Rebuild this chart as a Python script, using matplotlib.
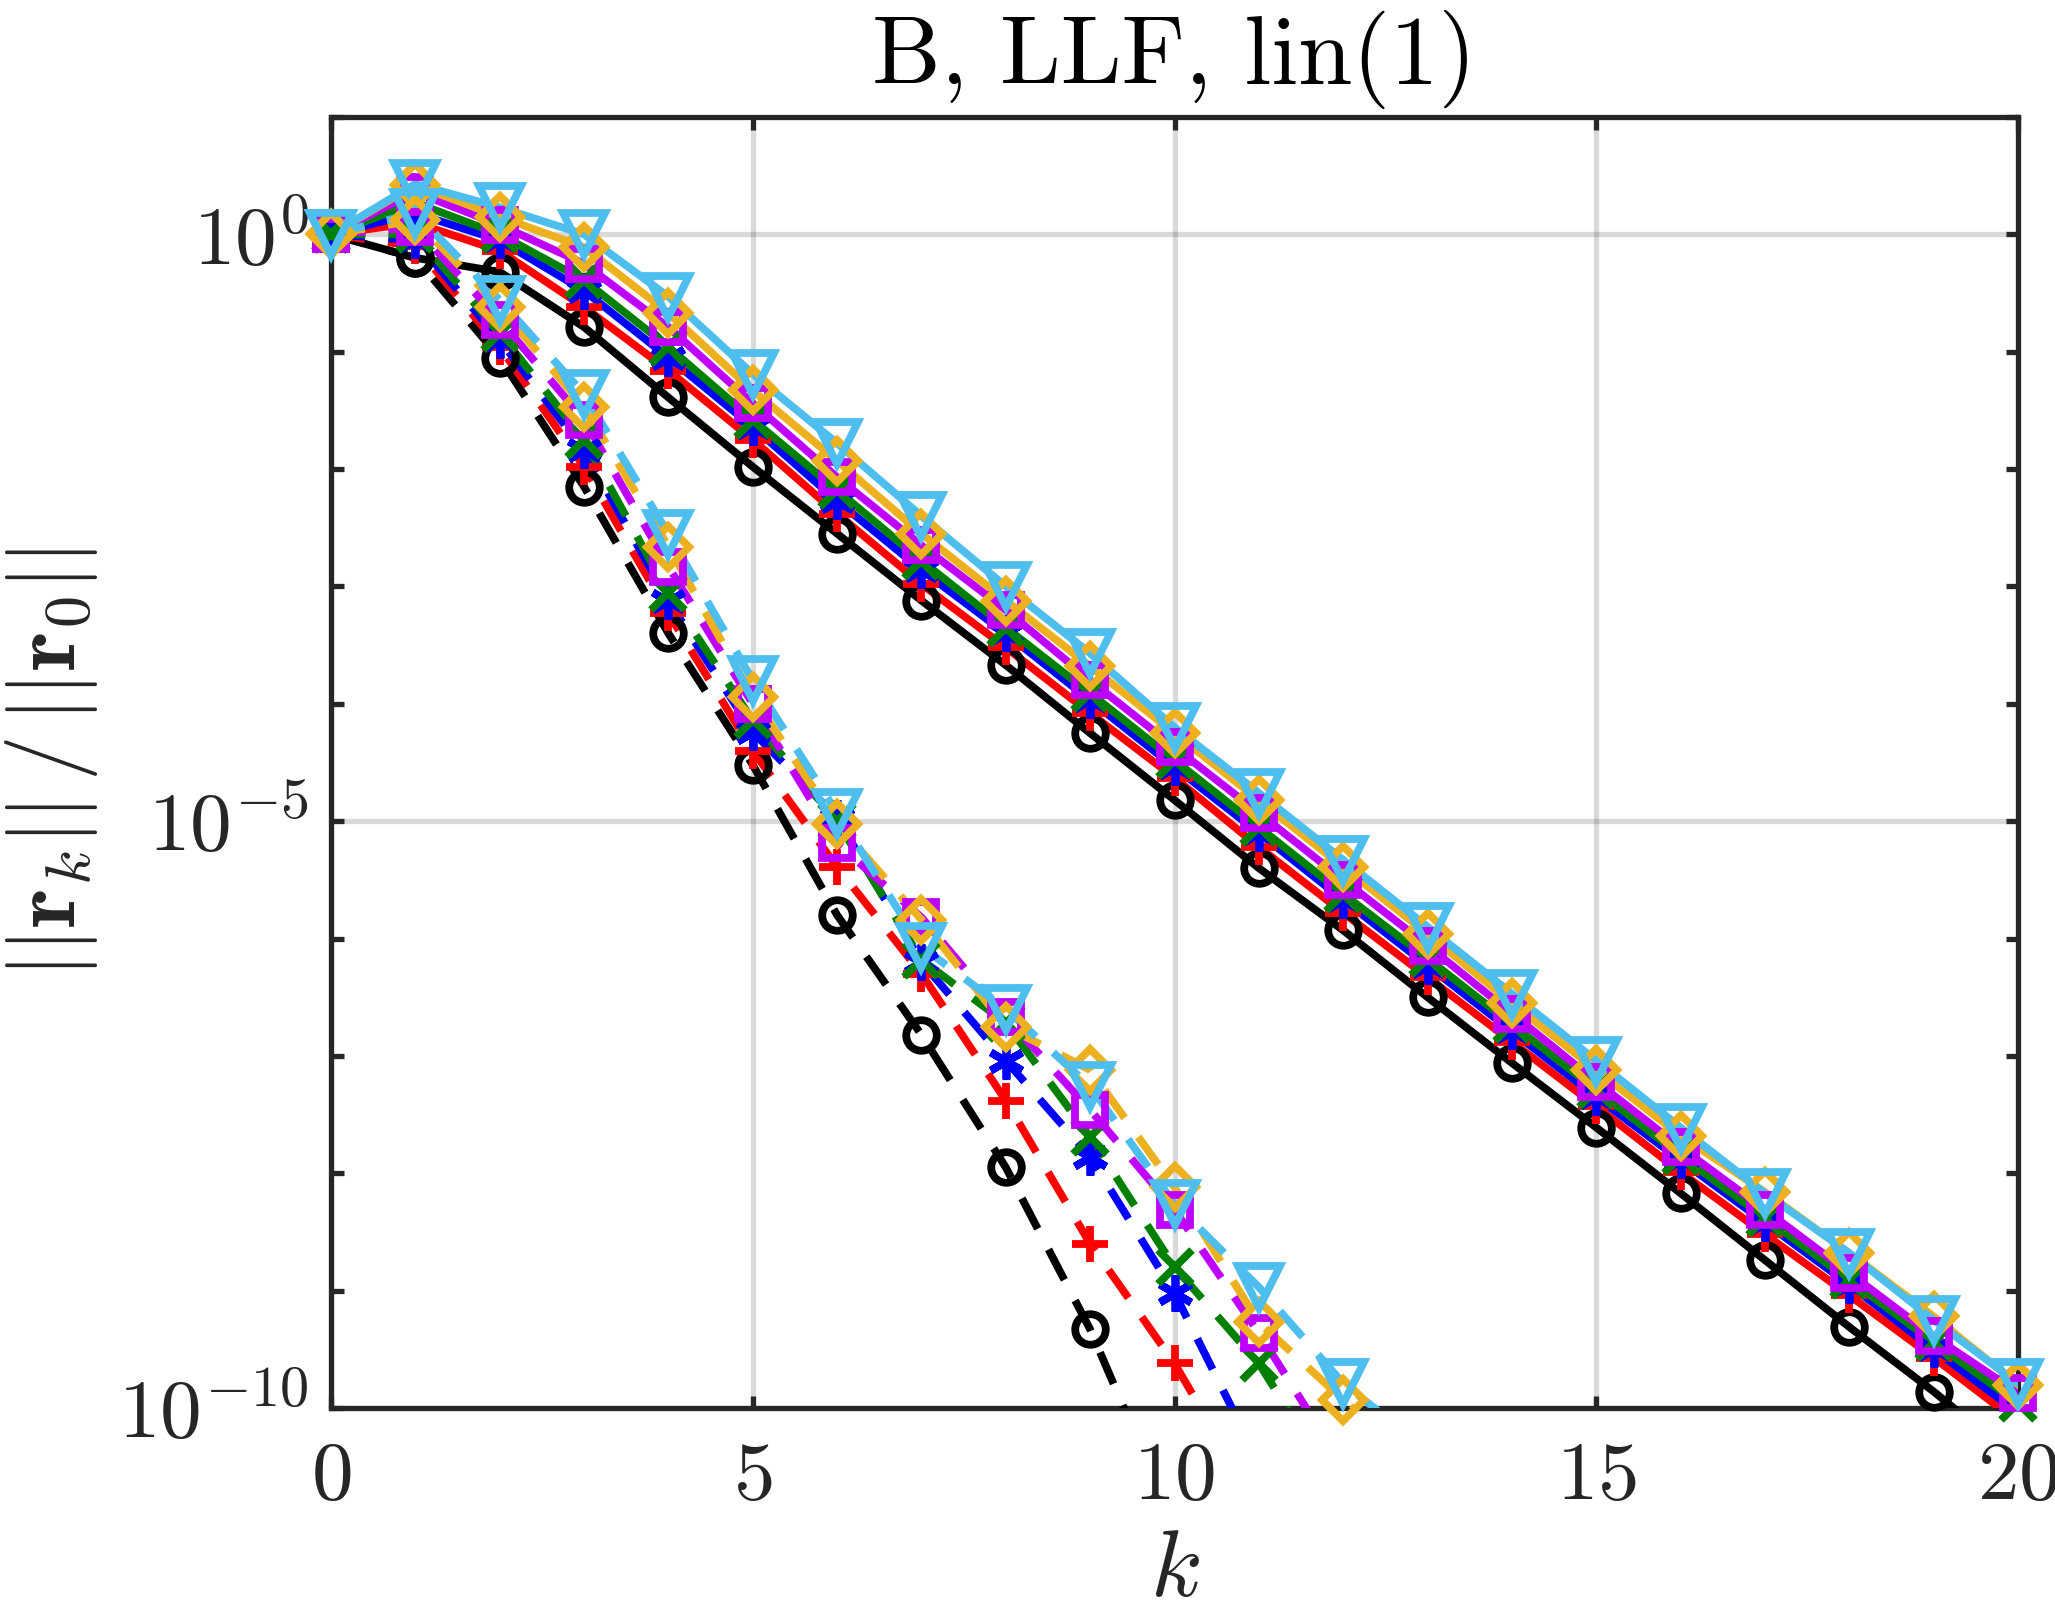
import numpy as np
import matplotlib
matplotlib.use("Agg")
import matplotlib.pyplot as plt
from matplotlib.ticker import FixedLocator, FixedFormatter, NullFormatter

plt.rcParams['mathtext.fontset'] = 'cm'
plt.rcParams['font.family'] = 'serif'
plt.rcParams['font.serif'] = ['cmr10', 'DejaVu Serif']
plt.rcParams['axes.unicode_minus'] = False

# ---------------- data (log10 of relative residual) ----------------
iters_solid = list(range(0, 21))
solid_black  = [0, -0.20, -0.32, -0.79, -1.39, -1.98, -2.55, -3.12, -3.67, -4.25, -4.82, -5.40, -5.93, -6.50, -7.06, -7.61, -8.17, -8.74, -9.31, -9.86, -10.45]
solid_red    = [0,  0.10, -0.14, -0.62, -1.16, -1.75, -2.38, -2.98, -3.52, -4.08, -4.63, -5.22, -5.78, -6.33, -6.88, -7.43, -7.99, -8.52, -9.04, -9.57, -10.12]
solid_blue   = [0,  0.18, -0.05, -0.48, -1.05, -1.64, -2.27, -2.86, -3.40, -3.97, -4.54, -5.10, -5.67, -6.23, -6.79, -7.35, -7.89, -8.42, -8.95, -9.50, -10.04]
solid_green  = [0,  0.27,  0.00, -0.39, -0.96, -1.58, -2.18, -2.78, -3.35, -3.91, -4.48, -5.05, -5.62, -6.17, -6.73, -7.29, -7.85, -8.38, -8.91, -9.44, -9.96]
solid_purple = [0,  0.36,  0.08, -0.25, -0.79, -1.44, -2.07, -2.65, -3.20, -3.80, -4.37, -4.93, -5.50, -6.06, -6.64, -7.22, -7.78, -8.31, -8.85, -9.39, -9.87]
solid_orange = [0,  0.42,  0.15, -0.11, -0.67, -1.33, -1.93, -2.55, -3.12, -3.68, -4.25, -4.82, -5.39, -5.96, -6.55, -7.12, -7.68, -8.16, -8.68, -9.22, -9.80]
solid_lblue  = [0,  0.43,  0.23,  0.00, -0.53, -1.19, -1.78, -2.40, -3.00, -3.57, -4.20, -4.76, -5.33, -5.90, -6.47, -7.04, -7.61, -8.17, -8.68, -9.25, -9.79]

dash_black  = [0, -0.20, -1.05, -2.15, -3.40, -4.52, -5.80, -6.82, -7.95, -9.33, -11.00]
dash_red    = [0, -0.10, -0.96, -1.98, -3.23, -4.40, -5.39, -6.30, -7.38, -8.60, -9.62, -10.85]
dash_blue   = [0, -0.05, -0.90, -1.84, -3.12, -4.24, -4.97, -6.20, -7.04, -7.86, -9.02, -10.46]
dash_green  = [0,  0.00, -0.84, -1.75, -3.06, -4.14, -5.00, -6.18, -6.72, -7.69, -8.80, -9.62, -10.77]
dash_purple = [0,  0.06, -0.73, -1.58, -2.83, -4.00, -5.19, -5.82, -6.67, -7.46, -8.31, -9.36, -10.50]
dash_orange = [0,  0.12, -0.62, -1.47, -2.66, -3.94, -5.02, -5.84, -6.75, -7.12, -8.12, -9.27, -9.93, -10.60]
dash_lblue  = [0,  0.18, -0.56, -1.36, -2.55, -3.80, -4.93, -6.07, -6.60, -7.26, -8.26, -8.97, -9.79, -10.36]

colors  = ['#000000', '#FF0000', '#0000FF', '#008000', '#BF00FF', '#EDB120', '#4DBEEE']
markers = ['o', '+', (6, 2, 0), 'x', 's', 'D', 'v']
msizes  = [11, 13, 13, 12, 11, 10.5, 15]

solid_sets = [solid_black, solid_red, solid_blue, solid_green, solid_purple, solid_orange, solid_lblue]
dash_sets  = [dash_black, dash_red, dash_blue, dash_green, dash_purple, dash_orange, dash_lblue]

title_text = 'B, LLF, lin(1)'
xlabel_text = r'$k$'
ylabel_text = r'$||\mathbf{r}_k||\,/\,||\mathbf{r}_0||$'
xtick_vals = [0, 5, 10, 15, 20]
xtick_labels = [r'$0$', r'$5$', r'$10$', r'$15$', r'$20$']
ytick_vals = [1e-10, 1e-5, 1e0]
ytick_labels = [r'$10^{-10}$', r'$10^{-5}$', r'$10^{0}$']
yminor_exps = list(range(-10, 2))

# ---------------- figure ----------------
fig = plt.figure(figsize=(2055/200, 1618/200), dpi=200)
ax = fig.add_axes([331/2055, 1 - 1408/1618, (2018-331)/2055, (1408-117)/1618])

lw = 2.8
ymin, ymax = 1e-10, 1e1

def draw(xs, logs, color, marker, ms, ls):
    vals = 10.0 ** np.asarray(logs)
    xs = np.asarray(xs[:len(vals)])
    if ls == '--':
        ax.plot(xs, vals, color=color, lw=lw, linestyle=(0, (4.4, 3.0)),
                clip_on=True, zorder=3)
    else:
        ax.plot(xs, vals, color=color, lw=lw, linestyle='-', clip_on=True, zorder=3)
    inside = (vals >= ymin * 0.999) & (vals <= ymax)
    ax.plot(xs[inside], vals[inside], linestyle='none', marker=marker, ms=ms,
            mfc='none', mec=color, mew=lw, clip_on=False, zorder=4)

for s, c, m, ms in zip(solid_sets, colors, markers, msizes):
    draw(iters_solid, s, c, m, ms, '-')
for s, c, m, ms in zip(dash_sets, colors, markers, msizes):
    draw(iters_solid, s, c, m, ms, '--')

ax.set_yscale('log')
ax.set_xlim(0, 20)
ax.set_ylim(ymin, ymax)

ax.xaxis.set_major_locator(FixedLocator(xtick_vals))
ax.xaxis.set_major_formatter(FixedFormatter(xtick_labels))
ax.yaxis.set_major_locator(FixedLocator(ytick_vals))
ax.yaxis.set_major_formatter(FixedFormatter(ytick_labels))
ax.yaxis.set_minor_locator(FixedLocator([10.0 ** e for e in yminor_exps]))
ax.yaxis.set_minor_formatter(NullFormatter())

frame_col = '#262626'
for sp in ax.spines.values():
    sp.set_linewidth(1.9)
    sp.set_color(frame_col)
ax.tick_params(which='both', direction='in', top=True, right=True,
               length=4.5, width=1.9, color=frame_col, labelcolor=frame_col,
               labelsize=30)
ax.tick_params(axis='x', pad=12)
ax.tick_params(axis='y', pad=8)

ax.grid(True, which='major', color='#000000', alpha=0.15, lw=1.9)
ax.set_axisbelow(True)

ax.set_title(title_text, fontsize=35, color='#000000', pad=12,
             family=['cmr10', 'DejaVu Serif'])
ax.set_xlabel(xlabel_text, fontsize=34, color=frame_col, labelpad=6)
ax.set_ylabel(ylabel_text, fontsize=33, color=frame_col)
ax.yaxis.set_label_coords(-0.137, 0.5)

fig.savefig('out.png', dpi=200)
